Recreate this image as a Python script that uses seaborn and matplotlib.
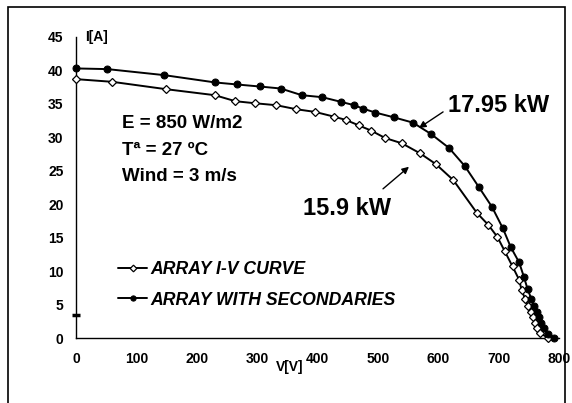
import pandas as pd
import matplotlib.pyplot as plt
import seaborn as sns
import numpy as np
from matplotlib.patches import Rectangle

## values
v_iv = [0, 60, 149, 230, 264, 296, 332, 365, 396, 427, 447, 468, 489, 512, 540, 570, 596, 625,
        664, 683, 698, 710, 723, 734, 738, 744, 749, 754, 757, 760, 763, 768, 782]
i_iv = [38.7, 38.3, 37.2, 36.3, 35.4, 35.1, 34.8, 34.2, 33.8, 33.1, 32.6, 31.8, 31.0, 29.9, 29.1, 27.6, 26.0, 23.6,
        18.7, 16.9, 15.1, 13.0, 10.7, 8.7, 7.2, 5.8, 4.8, 3.9, 3.1, 2.3, 1.45, 0.8, 0.0]

v_sec = [0, 52, 146, 231, 267, 304, 339, 374, 408, 439, 461, 475, 496, 526, 558, 588, 618, 644,
         667, 689, 707, 720, 734, 742, 748, 754, 758, 763, 767, 771, 775, 781, 792]
i_sec = [40.3, 40.2, 39.3, 38.2, 37.9, 37.6, 37.3, 36.3, 36.0, 35.3, 34.8, 34.3, 33.7, 33.0, 32.2, 30.5, 28.4, 25.7,
         22.6, 19.6, 16.4, 13.6, 11.3, 9.1, 7.3, 5.9, 4.8, 3.9, 3.1, 2.3, 1.45, 0.6, 0.05]

x_ticks = [0, 100, 200, 300, 400, 500, 600, 700, 800]
y_ticks = [0, 5, 10, 15, 20, 25, 30, 35, 40, 45]
conditions = ["E = 850 W/m2", "T\u00aa = 27 \u00baC", "Wind = 3 m/s"]
power_iv = "15.9 kW"
power_sec = "17.95 kW"

sns.set_style("white")
plt.rcParams["font.family"] = ["Liberation Sans", "DejaVu Sans"]
plt.rcParams["font.weight"] = "bold"
plt.rcParams["text.color"] = "black"
plt.rcParams["axes.labelcolor"] = "black"
plt.rcParams["xtick.color"] = "black"
plt.rcParams["ytick.color"] = "black"

fig = plt.figure(figsize=(5.72, 4.03), dpi=100)
ax = fig.add_axes([76 / 572, 65 / 403, 483 / 572, 301 / 403])

df_iv = pd.DataFrame({"V": v_iv, "I": i_iv})
df_sec = pd.DataFrame({"V": v_sec, "I": i_sec})

sns.lineplot(data=df_iv, x="V", y="I", sort=False, estimator=None, ax=ax, color="black", lw=1.4,
             marker="D", markersize=4.5, markerfacecolor="white", markeredgecolor="black",
             markeredgewidth=0.9, label="ARRAY I-V CURVE", clip_on=False, zorder=3)
sns.lineplot(data=df_sec, x="V", y="I", sort=False, estimator=None, ax=ax, color="black", lw=1.4,
             marker="o", markersize=5, markerfacecolor="black", markeredgecolor="black",
             label="ARRAY WITH SECONDARIES", clip_on=False, zorder=3)

ax.set_xlim(0, 800)
ax.set_ylim(0, 45)
ax.set_xticks(x_ticks)
ax.set_yticks(y_ticks)
ax.set_xlabel("")
ax.set_ylabel("")
sns.despine(ax=ax)
for s in ["left", "bottom"]:
    ax.spines[s].set_color("black")
    ax.spines[s].set_linewidth(1.0)
ax.tick_params(axis="both", direction="out", length=4, width=1, color="black",
               labelsize=10, labelcolor="black")
ax.tick_params(axis="x", pad=6)
ax.tick_params(axis="y", pad=5)
for lab in ax.get_xticklabels() + ax.get_yticklabels():
    lab.set_fontweight("bold")

## little dash on the y axis
ax.plot([-7, 7], [3.5, 3.5], color="black", lw=2.5, clip_on=False, solid_capstyle="butt")

ax.text(15, 45, "I[A]", fontsize=10, fontweight="bold", va="center", ha="left")
ax.text(354, -4.3, "V[V]", fontsize=10, fontweight="bold", va="center", ha="center", clip_on=False)

for k, t in enumerate(conditions):
    ax.text(76, 32.0 - 3.9 * k, t, fontsize=13.5, fontweight="bold", va="center", ha="left")

## power labels + arrows
ax.text(700, 34.8, power_sec, fontsize=17, fontweight="bold", ha="center", va="center")
ax.annotate("", xy=(568, 31.4), xytext=(608, 33.8),
            arrowprops=dict(arrowstyle="-|>", color="black", lw=1, shrinkA=0, shrinkB=0, mutation_scale=10))
ax.text(449, 19.4, power_iv, fontsize=17, fontweight="bold", ha="center", va="center")
ax.annotate("", xy=(551.5, 25.6), xytext=(508.5, 22.3),
            arrowprops=dict(arrowstyle="-|>", color="black", lw=1, shrinkA=0, shrinkB=0, mutation_scale=10))

ax.legend(loc="center left", bbox_to_anchor=(118 / 572, 1 - 285 / 403), bbox_transform=fig.transFigure,
          frameon=False, borderpad=0, borderaxespad=0, handlelength=1.65, handletextpad=0.2,
          labelspacing=0.75, markerscale=0.75, prop=dict(weight="bold", style="italic", size=12.7))

## outer frame of the picture
fig.patches.append(Rectangle((8 / 572, -0.02), 557 / 572, 1.02 - 7 / 403, transform=fig.transFigure,
                             fill=False, edgecolor="black", lw=1.2))

fig.savefig("out.png", dpi=100)
